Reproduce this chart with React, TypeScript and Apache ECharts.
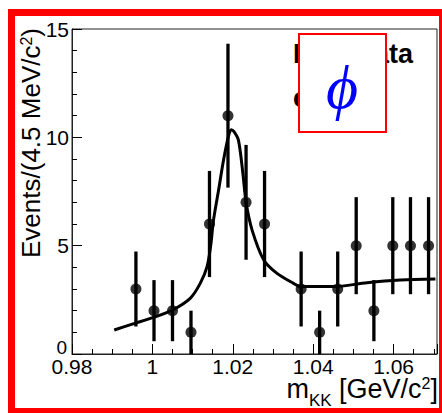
import React, { useEffect, useRef } from "react";
import * as echarts from "echarts";

// Data points (bin centers in GeV/c^2), counts, and errors
const binCenters = [0.9959, 1.0004, 1.005, 1.0096, 1.0142, 1.0188, 1.0233, 1.0279, 1.037, 1.0416, 1.0461, 1.0507, 1.0551, 1.0598, 1.0642, 1.0687];
const counts = [3, 2, 2, 1, 6, 11, 7, 6, 3, 1, 3, 5, 2, 5, 5, 5];
const errors = [1.73, 1.41, 1.41, 1.0, 2.45, 3.32, 2.65, 2.45, 1.73, 1.0, 1.73, 2.24, 1.41, 2.24, 2.24, 2.24];

// Fit curve
const fitX = [0.9905, 0.995, 1.0003, 1.005, 1.0094, 1.0119, 1.0136, 1.0145, 1.0152, 1.0165, 1.0177, 1.0189, 1.0196, 1.0203, 1.0214, 1.0225, 1.0233, 1.0248, 1.0277, 1.031, 1.0351, 1.0368, 1.0451, 1.0534, 1.0617, 1.0704];
const fitY = [1.11, 1.38, 1.69, 2.03, 2.57, 3.26, 4.03, 5.0, 6.18, 7.6, 8.95, 10.03, 10.35, 10.26, 9.87, 8.35, 7.0, 5.72, 4.34, 3.72, 3.26, 3.11, 3.11, 3.29, 3.41, 3.46];

const xMin = 0.98;
const xMax = 1.0708;
const yMin = 0;
const yMax = 15;

const FONT = "'Liberation Sans', Arial, Helvetica, sans-serif";

export default function App() {
  const ref = useRef<HTMLDivElement>(null);
  useEffect(() => {
    if (!ref.current) return;
    const chart = echarts.init(ref.current, undefined, { renderer: "svg" });
    const pts = binCenters.map((x, i) => [x, counts[i], errors[i]]);
    const fit = fitX.map((x, i) => [x, fitY[i]]);
    const fmtX = (v: number) => {
      if (v > 1.065) return "";
      return (+v).toFixed(2).replace(/\.?0+$/, "");
    };
    const fmtY = (v: number) => (v === 0 ? "{z|0}" : String(v));
    chart.setOption({
      animation: false,
      backgroundColor: "#fff",
      grid: { left: 72, top: 29, right: 5, bottom: 59, show: true, borderColor: "#222", borderWidth: 1, backgroundColor: "transparent" },
      xAxis: [
        {
          type: "value", min: xMin, max: xMax, interval: 0.02, position: "bottom",
          axisLine: { show: true, lineStyle: { color: "#222", width: 1 } },
          axisTick: { show: true, inside: true, length: 10, lineStyle: { color: "#000", width: 1 } },
          axisLabel: { formatter: fmtX, color: "#000", fontSize: 21, fontFamily: FONT, margin: 2 },
          splitLine: { show: false },
        },
        {
          type: "value", min: xMin, max: xMax, interval: 0.005, position: "bottom",
          axisLine: { show: false },
          axisTick: { show: true, inside: true, length: 5, lineStyle: { color: "#000", width: 1 } },
          axisLabel: { show: false },
          splitLine: { show: false },
        },
      ],
      yAxis: {
        type: "value", min: yMin, max: yMax, interval: 5,
        axisLine: { show: true, lineStyle: { color: "#222", width: 1 } },
        axisTick: { show: true, inside: true, length: 10, lineStyle: { color: "#000", width: 1 } },
        minorTick: { show: true, splitNumber: 5, length: 5, lineStyle: { color: "#000", width: 1 } },
        axisLabel: {
          formatter: fmtY, color: "#000", fontSize: 21, fontFamily: FONT, margin: 3,
          rich: { z: { fontSize: 19, fontFamily: FONT, color: "#000", padding: [0, 2, 14, 0] } },
        },
        splitLine: { show: false },
      },
      series: [
        {
          type: "custom",
          xAxisIndex: 0,
          data: pts,
          z: 3,
          renderItem: (params: any, api: any) => {
            const x = api.value(0), y = api.value(1), e = api.value(2);
            const top = api.coord([x, y + e]);
            const bot = api.coord([x, Math.max(0, y - e)]);
            return { type: "line", shape: { x1: top[0], y1: top[1], x2: bot[0], y2: bot[1] }, style: { stroke: "#000", lineWidth: 3.3 } };
          },
        },
        {
          type: "scatter",
          xAxisIndex: 0,
          data: pts.map((p) => [p[0], p[1]]),
          symbol: "circle",
          symbolSize: 11,
          itemStyle: { color: "#000" },
          z: 4,
        },
        {
          type: "line",
          xAxisIndex: 0,
          data: fit,
          smooth: 0.3,
          showSymbol: false,
          lineStyle: { color: "#000", width: 3 },
          z: 5,
        },
      ],
      graphic: [
        {
          type: "text", x: 31, y: 28, rotation: Math.PI / 2,
          style: {
            text: "Events/(4.5 MeV/c{sup|2})", align: "right", verticalAlign: "middle",
            fill: "#000", font: `26px ${FONT}`,
            rich: { sup: { fontSize: 16, fontFamily: FONT, verticalAlign: "top", fill: "#000" } },
          },
          z: 10,
        },
        {
          type: "text", x: 438, y: 389,
          style: {
            text: "m{sub|KK} [GeV/c{sup|2}]", align: "right", verticalAlign: "middle",
            fill: "#000", font: `27px ${FONT}`,
            rich: {
              sub: { fontSize: 17, fontFamily: FONT, verticalAlign: "bottom", fill: "#000", padding: [0, 0, -6, 0] },
              sup: { fontSize: 16, fontFamily: FONT, verticalAlign: "top", fill: "#000" },
            },
          },
          z: 10,
        },
        {
          type: "text", x: 413, y: 54,
          style: { text: "Real data", align: "right", verticalAlign: "middle", fill: "#000", font: `bold 27px ${FONT}` },
          z: 10,
        },
        {
          type: "text", x: 293, y: 98,
          style: { text: "cut", align: "left", verticalAlign: "middle", fill: "#000", font: `bold 27px ${FONT}` },
          z: 10,
        },
        {
          type: "rect", shape: { x: 299, y: 34, width: 87, height: 98 },
          style: { fill: "#fff", stroke: "#ff0000", lineWidth: 2 },
          z: 11,
        },
        {
          type: "text", x: 342, y: 87,
          style: { text: "ϕ", align: "center", verticalAlign: "middle", fill: "#0000ff", font: `italic 62px 'Liberation Serif', 'DejaVu Serif', serif` },
          z: 12,
        },
        {
          type: "rect", shape: { x: 11.5, y: 12.5, width: 431, height: 399 },
          style: { fill: "none", stroke: "#ff0000", lineWidth: 7 },
          z: 20,
        },
      ],
    });
    return () => chart.dispose();
  }, []);
  return <div ref={ref} style={{ position: "absolute", left: 0, top: 0, width: 442, height: 413 }} />;
}
